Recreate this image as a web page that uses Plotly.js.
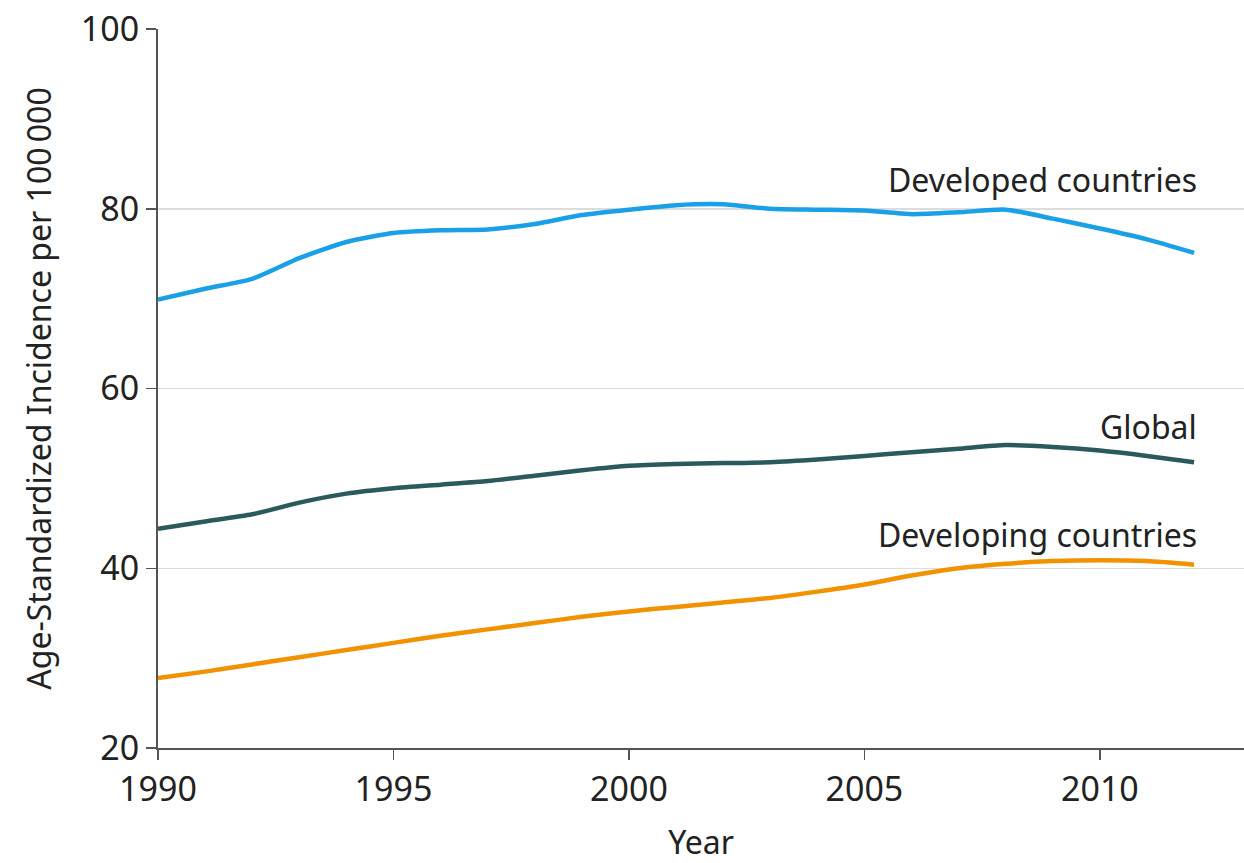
<!DOCTYPE html>
<html>
<head>
<meta charset="utf-8">
<script src="https://cdn.plot.ly/plotly-3.0.1.min.js"></script>
<style>html,body{margin:0;padding:0;background:#fff;}#chart{width:1244px;height:863px;}</style>
</head>
<body>
<div id="chart"></div>
<script>
var years = [1990,1991,1992,1993,1994,1995,1996,1997,1998,1999,2000,2001,2002,2003,2004,2005,2006,2007,2008,2009,2010,2011,2012];
var developed = [69.9,71.1,72.2,74.5,76.3,77.3,77.6,77.7,78.3,79.3,79.9,80.4,80.5,80.0,79.9,79.8,79.4,79.6,79.9,78.9,77.8,76.6,75.1];
var globalRate = [44.4,45.2,46.0,47.3,48.3,48.9,49.3,49.7,50.3,50.9,51.4,51.6,51.7,51.8,52.1,52.5,52.9,53.3,53.7,53.5,53.1,52.5,51.8];
var developing = [27.8,28.5,29.3,30.1,30.9,31.7,32.5,33.2,33.9,34.6,35.2,35.7,36.2,36.7,37.4,38.2,39.2,40.0,40.5,40.8,40.9,40.8,40.4];
var seriesNames = ['Developed countries','Global','Developing countries'];
var xTicks = [1990,1995,2000,2005,2010];
var yTicks = [20,40,60,80,100];

var font = 'Noto Sans, Open Sans, sans-serif';
var colors = ['#19a0e6','#2b5a5c','#f39200'];
var data = [developed, globalRate, developing];
var traces = data.map(function(d,i){
  return {x: years, y: d, type:'scatter', mode:'lines', name: seriesNames[i],
    line:{color: colors[i], width:4.5, shape:'spline', smoothing:0.6}, hoverinfo:'skip'};
});
var labelY = [83.3, 55.8, 43.8];
var annotations = seriesNames.map(function(n,i){
  return {x: 2012.1, y: labelY[i], xref:'x', yref:'y', text:n, showarrow:false,
    xanchor:'right', yanchor:'middle', font:{family:font, size:32, color:'#222'}};
});
var layout = {
  width:1244, height:863,
  margin:{l:158, r:0, t:29, b:115},
  paper_bgcolor:'#fff', plot_bgcolor:'#fff',
  showlegend:false,
  font:{family:font, color:'#222'},
  xaxis:{range:[1990,2013.06], tickvals:xTicks, ticktext:xTicks.map(String), showgrid:false, zeroline:false,
    showline:true, linecolor:'#555', linewidth:2, ticks:'outside', ticklen:10, tickwidth:1.5, tickcolor:'#555',
    tickfont:{size:34, family:font, color:'#222'},
    title:{text:'Year', font:{size:32, family:font, color:'#222'}, standoff:36}},
  yaxis:{range:[20,100], tickvals:yTicks, ticktext:yTicks.map(String), showgrid:true, gridcolor:'#dcdcdc', gridwidth:1.5,
    zeroline:false, showline:true, linecolor:'#555', linewidth:2, ticks:'outside', ticklen:10, tickwidth:1.5, tickcolor:'#555',
    tickfont:{size:34, family:font, color:'#222'},
    title:{text:'Age-Standardized Incidence per 100\u2009000', font:{size:32, family:font, color:'#222'}, standoff:20}},
  annotations: annotations
};
Plotly.newPlot('chart', traces, layout, {staticPlot:true, displayModeBar:false});
</script>
</body>
</html>
